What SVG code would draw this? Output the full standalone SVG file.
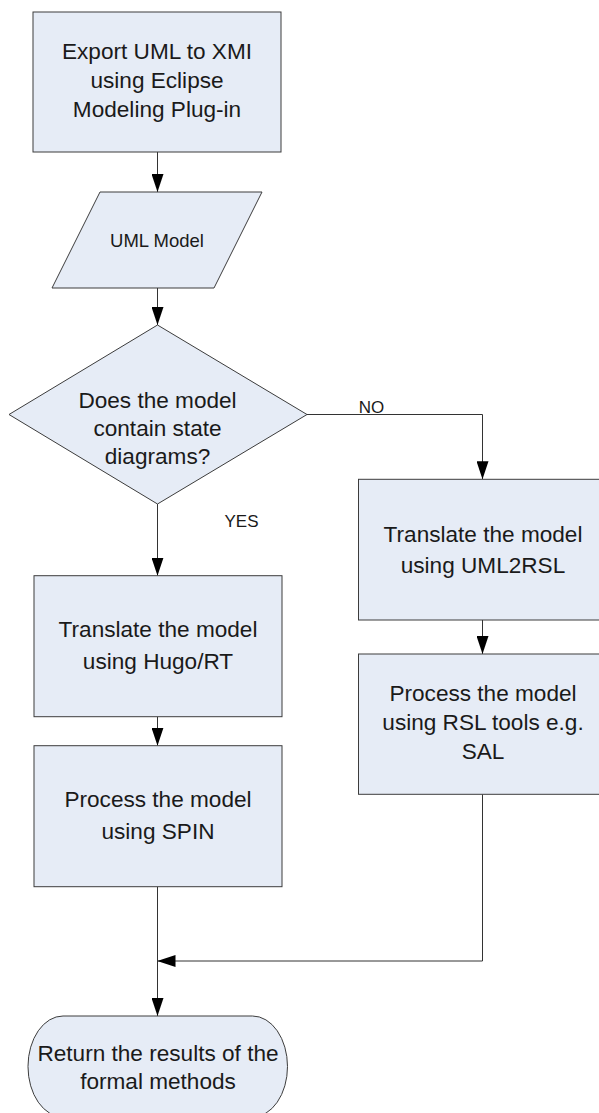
<svg xmlns="http://www.w3.org/2000/svg" width="599" height="1113" viewBox="0 0 599 1113">
  <style>
    .shape { fill: #e6ecf6; stroke: #3c3c3c; stroke-width: 1; }
    .t { font-family: "Liberation Sans", Arial, sans-serif; font-size: 22.6px; fill: #1a1a1a; text-anchor: middle; }
    .s { font-size: 18.5px; }
    .lbl { font-family: "Liberation Sans", Arial, sans-serif; font-size: 17px; fill: #1a1a1a; text-anchor: middle; }
    .conn { fill: none; stroke: #333; stroke-width: 1; marker-end: url(#arrow); }
  </style>
  <defs>
    <marker id="arrow" markerUnits="userSpaceOnUse" markerWidth="18" markerHeight="12" refX="18" refY="6" orient="auto">
      <path d="M0,0 L18,6 L0,12 z" fill="#000"/>
    </marker>
  </defs>
  <rect width="599" height="1113" fill="#fff"/>

  <g id="connectors">
    <path class="conn" d="M157.5,152 V192"/>
    <path class="conn" d="M157.5,288 V325"/>
    <path class="conn" d="M307,414.5 H482.5 V479.3"/>
    <path class="conn" d="M157.5,504 V575.7"/>
    <path class="conn" d="M482.5,620 V654"/>
    <path class="conn" d="M157.5,716.7 V745.7"/>
    <path class="conn" d="M157.5,886.7 V1016"/>
    <path class="conn" d="M482.5,794.3 V961 H157.5"/>
  </g>

  <g id="export">
    <rect class="shape" x="33" y="12" width="248" height="140"/>
    <text class="t" x="157" y="59.3">Export UML to XMI</text>
    <text class="t" x="157" y="87.8">using Eclipse</text>
    <text class="t" x="157" y="116.5">Modeling Plug-in</text>
  </g>

  <g id="umlmodel">
    <polygon class="shape" points="100,192 262,192 214,288 52,288"/>
    <text class="t s" x="157" y="246.7">UML Model</text>
  </g>

  <g id="decision">
    <polygon class="shape" points="157.5,325 307,414.5 157.5,504 9,414.5"/>
    <text class="t" x="157.5" y="407.7">Does the model</text>
    <text class="t" x="157.5" y="436">contain state</text>
    <text class="t" x="157.5" y="463.5">diagrams?</text>
  </g>

  <g id="label-no">
    <text class="lbl" x="371.5" y="413">NO</text>
  </g>
  <g id="label-yes">
    <text class="lbl" x="241.5" y="527">YES</text>
  </g>

  <g id="hugo">
    <rect class="shape" x="34" y="575.7" width="248" height="141"/>
    <text class="t" x="158" y="637.3">Translate the model</text>
    <text class="t" x="158" y="669.3">using Hugo/RT</text>
  </g>

  <g id="spin">
    <rect class="shape" x="34" y="745.7" width="248" height="141"/>
    <text class="t" x="158" y="807.3">Process the model</text>
    <text class="t" x="158" y="839.3">using SPIN</text>
  </g>

  <g id="uml2rsl">
    <rect class="shape" x="358.5" y="479.3" width="249" height="140.7"/>
    <text class="t" x="483" y="541.7">Translate the model</text>
    <text class="t" x="483" y="572.7">using UML2RSL</text>
  </g>

  <g id="rsltools">
    <rect class="shape" x="358.5" y="654" width="249" height="140.3"/>
    <text class="t" x="483" y="701">Process the model</text>
    <text class="t" x="483" y="729.8">using RSL tools e.g.</text>
    <text class="t" x="483" y="759.3">SAL</text>
  </g>

  <g id="results">
    <path class="shape" d="M63,1016 H252.5 A35,50.5 0 0 1 252.5,1117 H63 A35,50.5 0 0 1 63,1016 Z"/>
    <text class="t" x="158" y="1060.7">Return the results of the</text>
    <text class="t" x="158" y="1089">formal methods</text>
  </g>
</svg>
